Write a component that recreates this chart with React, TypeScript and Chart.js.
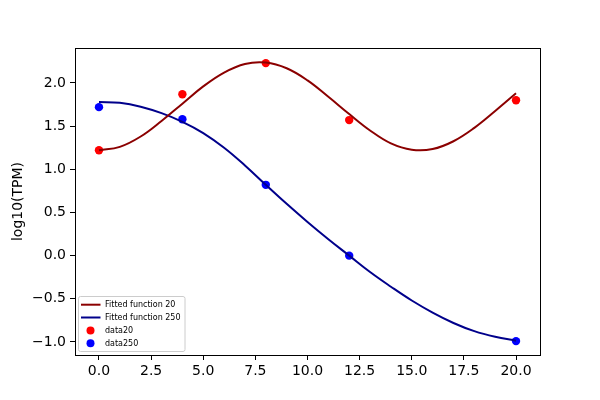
import React, { useEffect, useRef } from 'react';
import { Chart, registerables } from 'chart.js';

Chart.register(...registerables);

// fitted curves at whole x steps
const fitX = [0, 1, 2, 3, 4, 5, 6, 7, 8, 9, 10, 11, 12, 13, 14, 15, 16, 17, 18, 19, 20];
const fit20 = [1.22, 1.26, 1.38, 1.56, 1.76, 1.96, 2.12, 2.22, 2.236, 2.17, 2.03, 1.84, 1.64, 1.45, 1.3, 1.227, 1.235, 1.325, 1.48, 1.675, 1.88];
const fit250 = [1.78, 1.77, 1.725, 1.65, 1.55, 1.42, 1.25, 1.045, 0.82, 0.6, 0.39, 0.19, 0.0, -0.19, -0.36, -0.52, -0.66, -0.78, -0.875, -0.94, -0.985];

// measured points
const sampleX = [0, 4, 8, 12, 20];
const data20 = [1.22, 1.87, 2.23, 1.57, 1.8];
const data250 = [1.72, 1.58, 0.82, 0.0, -0.99];

const xTicks = [0, 2.5, 5, 7.5, 10, 12.5, 15, 17.5, 20];
const yTicks = [-1, -0.5, 0, 0.5, 1, 1.5, 2];

const FONT = 'DejaVu Sans';

const fmt = (v: number | string) => Number(v).toFixed(1).replace('-', '\u2212');

const toXY = (xs: number[], ys: number[]) => xs.map((x, i) => ({ x, y: ys[i] }));

// matplotlib style frame + legend in the lower left corner
const decorations = {
    id: 'decorations',
    afterDraw(chart: any) {
        const { ctx, chartArea } = chart;
        ctx.save();
        ctx.strokeStyle = '#000';
        ctx.lineWidth = 1;
        ctx.strokeRect(chartArea.left + 0.5, chartArea.top + 0.5, chartArea.right - chartArea.left, chartArea.bottom - chartArea.top);

        const bx = 78.5;
        const by = 296.5;
        const bw = 106.5;
        const bh = 55;
        ctx.beginPath();
        ctx.roundRect(bx, by, bw, bh, 2);
        ctx.fillStyle = 'rgba(255,255,255,0.8)';
        ctx.fill();
        ctx.strokeStyle = '#cccccc';
        ctx.stroke();

        const rows = [304.7, 317.5, 330.6, 343.3];
        ctx.font = `8px "${FONT}"`;
        ctx.textBaseline = 'middle';
        chart.data.datasets.forEach((ds: any, i: number) => {
            const y = rows[i];
            if (ds.showLine) {
                ctx.beginPath();
                ctx.moveTo(81, y);
                ctx.lineTo(100.5, y);
                ctx.strokeStyle = ds.borderColor;
                ctx.lineWidth = 2;
                ctx.stroke();
            } else {
                ctx.beginPath();
                ctx.arc(90.5, y, 4, 0, Math.PI * 2);
                ctx.fillStyle = ds.backgroundColor;
                ctx.fill();
            }
            ctx.fillStyle = '#000';
            ctx.fillText(ds.label, 105, y + 0.5);
        });
        ctx.restore();
    },
};

const FitChart: React.FC = () => {
    const chartRef = useRef<HTMLCanvasElement | null>(null);

    useEffect(() => {
        document.body.style.margin = '0';
        const ctx = chartRef.current?.getContext('2d');
        if (!ctx) return;

        const tickFont = { family: FONT, size: 14 };

        const newChart = new Chart(ctx, {
            type: 'scatter',
            data: {
                datasets: [
                    {
                        label: 'Fitted function 20',
                        data: toXY(fitX, fit20),
                        showLine: true,
                        borderColor: '#8b0000',
                        backgroundColor: '#8b0000',
                        borderWidth: 2,
                        pointRadius: 0,
                        tension: 0.4,
                    },
                    {
                        label: 'Fitted function 250',
                        data: toXY(fitX, fit250),
                        showLine: true,
                        borderColor: '#00008b',
                        backgroundColor: '#00008b',
                        borderWidth: 2,
                        pointRadius: 0,
                        tension: 0.4,
                    },
                    {
                        label: 'data20',
                        data: toXY(sampleX, data20),
                        backgroundColor: '#ff0000',
                        borderWidth: 0,
                        pointRadius: 4.2,
                    },
                    {
                        label: 'data250',
                        data: toXY(sampleX, data250),
                        backgroundColor: '#0000ff',
                        borderWidth: 0,
                        pointRadius: 4.2,
                    },
                ],
            },
            options: {
                responsive: false,
                animation: false,
                layout: { padding: { top: 48, right: 60, left: 0, bottom: 0 } },
                plugins: {
                    legend: { display: false },
                    tooltip: { enabled: false },
                },
                scales: {
                    x: {
                        type: 'linear',
                        min: -1.15,
                        max: 21.15,
                        afterBuildTicks: (scale: any) => {
                            scale.ticks = xTicks.map((v) => ({ value: v }));
                        },
                        afterFit: (scale: any) => {
                            scale.height = 45;
                        },
                        ticks: {
                            color: '#000',
                            font: tickFont,
                            padding: 3,
                            maxRotation: 0,
                            callback: (v: any) => fmt(v),
                        },
                        grid: {
                            drawOnChartArea: false,
                            drawTicks: true,
                            tickLength: 5,
                            color: '#000',
                        },
                        border: { display: true, color: '#000' },
                    },
                    y: {
                        type: 'linear',
                        min: -1.151,
                        max: 2.405,
                        afterBuildTicks: (scale: any) => {
                            scale.ticks = yTicks.map((v) => ({ value: v }));
                        },
                        afterFit: (scale: any) => {
                            scale.width = 75;
                        },
                        ticks: {
                            color: '#000',
                            font: tickFont,
                            padding: 4,
                            callback: (v: any) => fmt(v),
                        },
                        grid: {
                            drawOnChartArea: false,
                            drawTicks: true,
                            tickLength: 5,
                            color: '#000',
                        },
                        border: { display: true, color: '#000' },
                        title: {
                            display: true,
                            text: 'log10(TPM)',
                            color: '#000',
                            font: { family: FONT, size: 14 },
                            padding: { top: 10, bottom: 0 },
                        },
                    },
                },
            },
            plugins: [decorations],
        });

        return () => {
            newChart.destroy();
        };
    }, []);

    return (
        <div style={{ width: 600, height: 400, background: '#fff' }}>
            <canvas ref={chartRef} width={600} height={400} style={{ width: 600, height: 400 }}></canvas>
        </div>
    );
};

export default function App() {
    return <FitChart />;
}
